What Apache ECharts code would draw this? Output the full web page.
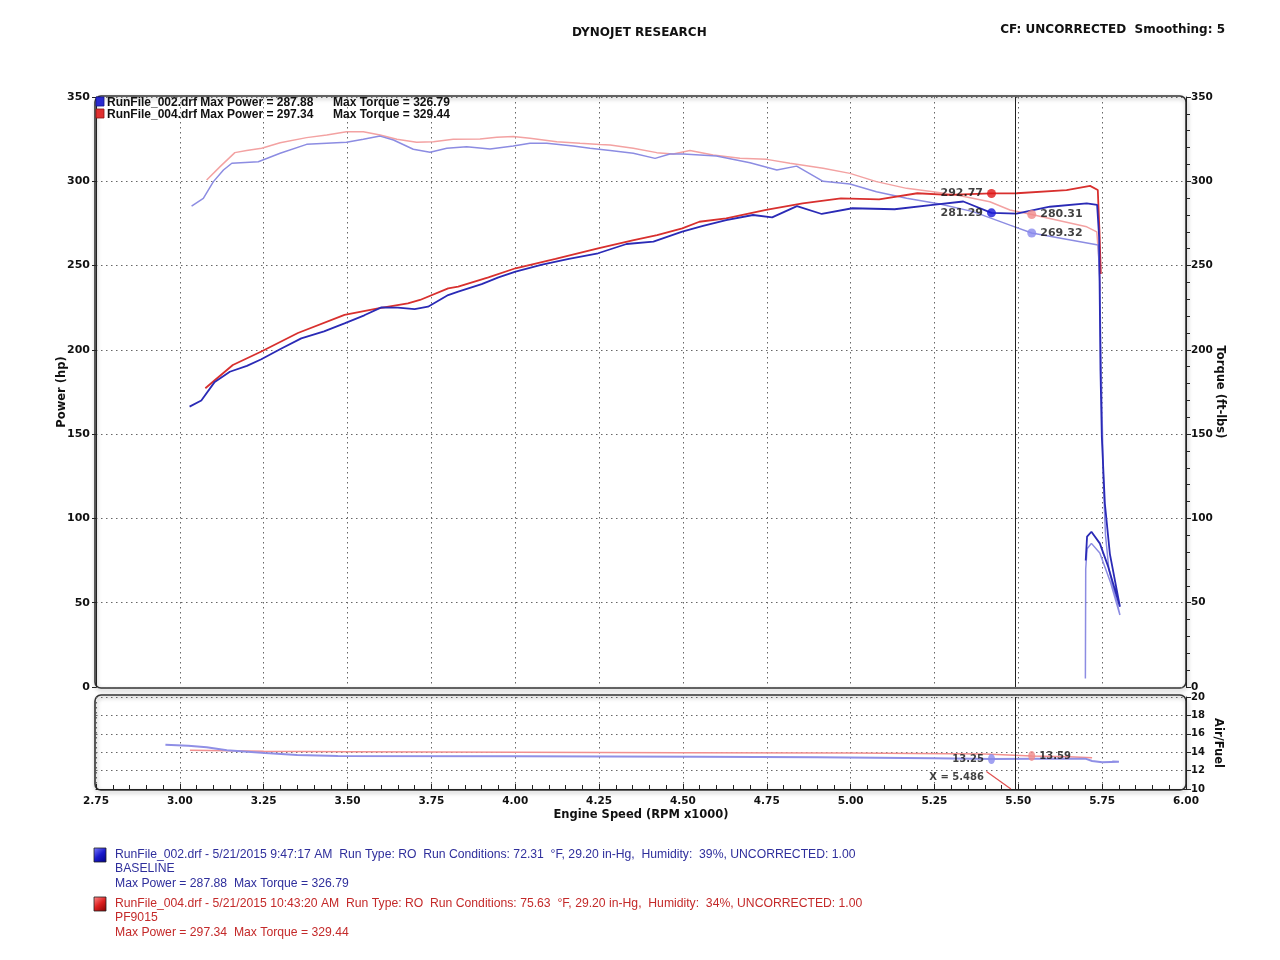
<!DOCTYPE html>
<html>
<head>
<meta charset="utf-8">
<script src="https://cdn.jsdelivr.net/npm/echarts@6/dist/echarts.min.js"></script>
<style>
html,body{margin:0;padding:0;background:#fff;}
#chart{width:1280px;height:960px;}
</style>
</head>
<body>
<div id="chart"></div>
<script>
// ---------- DATA ----------
const xTickValues = [2.75,3.00,3.25,3.50,3.75,4.00,4.25,4.50,4.75,5.00,5.25,5.50,5.75,6.00];

// Baseline (RunFile_002) power, hp
const basePowerRpm = [3.029,3.064,3.104,3.149,3.20,3.243,3.30,3.362,3.43,3.491,3.55,3.601,3.65,3.70,3.74,3.80,3.83,3.90,3.95,4.001,4.08,4.16,4.247,4.332,4.412,4.498,4.56,4.629,4.709,4.766,4.84,4.914,5.005,5.131,5.245,5.336,5.42,5.495,5.594,5.704,5.735,5.741,5.743,5.745,5.749,5.758,5.773,5.803,5.768,5.743,5.718,5.705,5.701];
const basePowerHp  = [166.3,170,181,187,190.5,194.4,200.5,206.8,211,215.7,220.5,225.2,225,224.2,225.6,232.5,234.5,239,243,246.4,250.5,254,257.3,262.8,264.2,270.1,273.5,277,280,278.6,285.3,280.6,284,283.4,286,288,281.29,280.8,284.9,286.9,286,267,228,188,148.5,109,79,47.6,71.4,85.2,92.1,89.2,75];

// PF9015 (RunFile_004) power, hp
const modPowerRpm = [3.076,3.104,3.158,3.243,3.352,3.491,3.591,3.68,3.716,3.80,3.83,3.92,4.001,4.12,4.247,4.35,4.423,4.498,4.549,4.629,4.748,4.857,4.971,5.085,5.199,5.29,5.42,5.495,5.644,5.714,5.737,5.742,5.746];
const modPowerHp  = [177.2,182,191,199,210,220.7,224.6,227.6,229.6,236.5,237.5,243,248.4,254,260.2,265,268.1,272.1,276,278,283,286.9,289.9,289.3,292.9,291.9,292.77,292.9,294.8,297.3,294.8,270,245];

// Baseline torque, ft-lbs
const baseTorqueRpm = [3.035,3.07,3.10,3.13,3.155,3.234,3.299,3.378,3.438,3.497,3.547,3.597,3.637,3.696,3.746,3.796,3.855,3.925,3.994,4.044,4.094,4.173,4.223,4.283,4.352,4.417,4.461,4.501,4.60,4.70,4.78,4.839,4.918,4.998,5.077,5.167,5.266,5.365,5.475,5.54,5.738,5.743,5.746,5.750,5.754,5.760,5.770,5.803,5.775,5.743,5.718,5.705,5.701,5.700];
const baseTorqueLb  = [285.3,289.9,299.8,306.7,310.7,311.6,316.6,321.9,322.5,323.1,324.9,326.8,324.5,319,317.2,319.6,320.5,319.2,320.9,322.5,322.5,320.9,319.6,318.2,316.6,313.6,316.2,316.2,315,311,306.7,309,300,298.4,293.8,289.9,286.5,282,274,269.32,262.2,240,200,160,120,90,70,42.7,62,79.5,85.2,82,70,5];

// PF9015 torque, ft-lbs
const modTorqueRpm = [3.080,3.12,3.164,3.199,3.244,3.299,3.378,3.438,3.497,3.547,3.597,3.647,3.706,3.756,3.815,3.895,3.945,3.994,4.044,4.124,4.193,4.253,4.283,4.352,4.422,4.471,4.521,4.59,4.67,4.75,4.819,4.918,4.998,5.077,5.167,5.246,5.316,5.415,5.475,5.54,5.704,5.734,5.740,5.745];
const modTorqueLb  = [300.8,308.7,317,318.2,319.6,322.9,325.9,327.5,329.4,329.4,327.5,324.9,323.1,323.5,324.9,325.1,326.1,326.5,325.5,323.5,322.5,321.8,321.5,319.6,317,316.2,318.2,315.6,313.6,313,310.7,307.7,304.7,299.8,295.8,293.8,291.9,287.9,283,280.31,273,270,255,235];

// Air / Fuel
const baseAfrRpm = [2.957,3.025,3.08,3.14,3.254,3.35,3.471,4.0,4.546,4.9,5.25,5.42,5.55,5.70,5.72,5.75,5.80,5.78];
const baseAfr    = [14.8,14.7,14.55,14.2,13.9,13.7,13.6,13.55,13.5,13.45,13.35,13.25,13.3,13.3,13.05,12.9,12.95,13.0];
const modAfrRpm  = [3.03,3.15,3.25,3.5,4.0,4.5,5.0,5.4,5.54,5.65,5.72];
const modAfr     = [14.2,14.15,14.1,14.05,14.0,13.95,13.9,13.8,13.59,13.5,13.4];

// Cursor / markers
const cursorRpm = 5.486;
const cursorLeaderRpm = [5.405,5.478];
const cursorLeaderAfr = [11.9,10.0];
const markerRpmLeft = 5.42;
const markerRpmRight = 5.54;
const markerModPower = 292.77;
const markerBasePower = 281.29;
const markerModTorque = 280.31;
const markerBaseTorque = 269.32;
const markerBaseAfr = 13.25;
const markerModAfr = 13.59;

// Texts
const titleText = 'DYNOJET RESEARCH';
const cornerText = 'CF: UNCORRECTED  Smoothing: 5';
const topLegendA = ['RunFile_002.drf Max Power = 287.88', 'Max Torque = 326.79'];
const topLegendB = ['RunFile_004.drf Max Power = 297.34', 'Max Torque = 329.44'];
const bottomLegendA = ['RunFile_002.drf - 5/21/2015 9:47:17 AM  Run Type: RO  Run Conditions: 72.31  \u00B0F, 29.20 in-Hg,  Humidity:  39%, UNCORRECTED: 1.00', 'BASELINE', 'Max Power = 287.88  Max Torque = 326.79'];
const bottomLegendB = ['RunFile_004.drf - 5/21/2015 10:43:20 AM  Run Type: RO  Run Conditions: 75.63  \u00B0F, 29.20 in-Hg,  Humidity:  34%, UNCORRECTED: 1.00', 'PF9015', 'Max Power = 297.34  Max Torque = 329.44'];

// ---------- BUILD ----------
const zip = (a, b) => a.map((v, i) => [v, b[i]]);
const C = {
  basePower: '#2a2ab6', modPower: '#d8302e',
  baseTorque: '#8c8ce2', modTorque: '#f3a2a2',
  baseAfr: '#8f8fe6', modAfr: '#f29090'
};
const tickFont = {fontFamily: 'DejaVu Sans', fontWeight: 'bold', fontSize: 11, color: '#111'};
const dotted = {color: '#666', type: [1.5, 3.5], width: 1};
const nameFont = {fontFamily: 'DejaVu Sans', fontWeight: 'bold', fontSize: 11.5, color: '#111'};

const chart = echarts.init(document.getElementById('chart'), null, {renderer: 'canvas'});

const labelStyle = (pos) => ({show: true, position: pos, distance: 4, formatter: p => p.value[1].toFixed(2), fontFamily: 'DejaVu Sans', fontWeight: 'bold', fontSize: 11, color: '#111'});
const legFont = '12.2px "Liberation Sans"';

const option = {
  backgroundColor: '#ffffff',
  animation: false,
  grid: [
    {left: 96, right: 94, top: 97, height: 590},
    {left: 96, right: 94, top: 697, height: 92}
  ],
  xAxis: [
    {type: 'value', gridIndex: 0, min: 2.75, max: 6.0, interval: 0.25,
     axisLine: {show: false}, axisTick: {show: false}, axisLabel: {show: false},
     splitLine: {show: true, lineStyle: dotted}},
    {type: 'value', gridIndex: 1, min: 2.75, max: 6.0, interval: 0.25,
     name: 'Engine Speed (RPM x1000)', nameLocation: 'middle', nameGap: 20, nameMoveOverlap: false,
     nameTextStyle: nameFont,
     axisLine: {show: true, lineStyle: {color: '#222', width: 1.2}},
     axisTick: {show: true, inside: true, length: 5, lineStyle: {color: '#222'}},
     minorTick: {show: true, splitNumber: 5, length: 4, lineStyle: {color: '#222'}},
     axisLabel: Object.assign({margin: 7, formatter: v => v.toFixed(2)}, tickFont, {fontSize: 10.5}),
     splitLine: {show: true, lineStyle: dotted}}
  ],
  yAxis: [
    {type: 'value', gridIndex: 0, min: 0, max: 350, interval: 50, position: 'left',
     name: 'Power (hp)', nameLocation: 'middle', nameGap: 28, nameRotate: 90, nameMoveOverlap: false,
     nameTextStyle: nameFont,
     axisLine: {show: true, lineStyle: {color: '#222'}},
     axisTick: {show: true, length: 4, lineStyle: {color: '#222'}},
     axisLabel: Object.assign({margin: 6}, tickFont),
     splitLine: {show: true, lineStyle: dotted}},
    {type: 'value', gridIndex: 0, min: 0, max: 350, interval: 50, position: 'right',
     name: 'Torque (ft-lbs)', nameLocation: 'middle', nameGap: 28, nameRotate: -90, nameMoveOverlap: false,
     nameTextStyle: nameFont,
     axisLine: {show: true, lineStyle: {color: '#222'}},
     axisTick: {show: true, length: 5, lineStyle: {color: '#222'}},
     minorTick: {show: true, splitNumber: 5, length: 4, lineStyle: {color: '#222'}},
     axisLabel: Object.assign({margin: 5}, tickFont, {fontSize: 10.5}),
     splitLine: {show: false}},
    {type: 'value', gridIndex: 1, min: 10, max: 20, interval: 2, position: 'right',
     name: 'Air/Fuel', nameLocation: 'middle', nameGap: 26, nameRotate: -90, nameMoveOverlap: false,
     nameTextStyle: nameFont,
     axisLine: {show: true, lineStyle: {color: '#222'}},
     axisTick: {show: true, length: 5, lineStyle: {color: '#222'}},
     axisLabel: Object.assign({margin: 5}, tickFont, {fontSize: 10}),
     splitLine: {show: true, lineStyle: dotted}}
  ],
  graphic: [
    // panel frames
    {type: 'rect', shape: {x: 95, y: 96, width: 1091, height: 592, r: 6}, z: 0,
     style: {fill: 'none', stroke: '#333', lineWidth: 1.6, shadowBlur: 4, shadowColor: 'rgba(0,0,0,0.35)', shadowOffsetX: 1, shadowOffsetY: 2}},
    {type: 'rect', shape: {x: 95, y: 695, width: 1091, height: 95, r: 6}, z: 0,
     style: {fill: 'none', stroke: '#333', lineWidth: 1.6, shadowBlur: 4, shadowColor: 'rgba(0,0,0,0.35)', shadowOffsetX: 1, shadowOffsetY: 2}},
    // header
    {type: 'text', left: 572, top: 27, style: {text: titleText, font: 'bold 12px "DejaVu Sans"', fill: '#111'}},
    {type: 'text', right: 55, top: 24, style: {text: cornerText, font: 'bold 12px "DejaVu Sans"', fill: '#111'}},
    // top-left legend
    {type: 'rect', shape: {x: 96, y: 97, width: 8, height: 9}, style: {fill: '#2a2ad0', stroke: '#11118a', lineWidth: 0.8}, z: 10},
    {type: 'rect', shape: {x: 96, y: 109, width: 8, height: 9}, style: {fill: '#e03030', stroke: '#8a1111', lineWidth: 0.8}, z: 10},
    {type: 'text', left: 107, top: 97, z: 10, style: {text: topLegendA[0], font: 'bold 12px "Liberation Sans"', fill: '#111'}},
    {type: 'text', left: 333, top: 97, z: 10, style: {text: topLegendA[1], font: 'bold 12px "Liberation Sans"', fill: '#111'}},
    {type: 'text', left: 107, top: 109, z: 10, style: {text: topLegendB[0], font: 'bold 12px "Liberation Sans"', fill: '#111'}},
    {type: 'text', left: 333, top: 109, z: 10, style: {text: topLegendB[1], font: 'bold 12px "Liberation Sans"', fill: '#111'}},
    // bottom legend
    {type: 'rect', shape: {x: 94, y: 848, width: 12, height: 14}, style: {fill: new echarts.graphic.LinearGradient(0,0,1,1,[{offset:0,color:'#8080ff'},{offset:0.5,color:'#1a1acc'},{offset:1,color:'#000080'}]), stroke: '#222', lineWidth: 0.8}},
    {type: 'rect', shape: {x: 94, y: 897, width: 12, height: 14}, style: {fill: new echarts.graphic.LinearGradient(0,0,1,1,[{offset:0,color:'#ff9090'},{offset:0.5,color:'#dd2020'},{offset:1,color:'#800000'}]), stroke: '#222', lineWidth: 0.8}},
    {type: 'text', left: 115, top: 849, style: {text: bottomLegendA[0], font: legFont, fill: '#2f2f9c'}},
    {type: 'text', left: 115, top: 863, style: {text: bottomLegendA[1], font: legFont, fill: '#2f2f9c'}},
    {type: 'text', left: 115, top: 878, style: {text: bottomLegendA[2], font: legFont, fill: '#2f2f9c'}},
    {type: 'text', left: 115, top: 898, style: {text: bottomLegendB[0], font: legFont, fill: '#c42a2a'}},
    {type: 'text', left: 115, top: 912, style: {text: bottomLegendB[1], font: legFont, fill: '#c42a2a'}},
    {type: 'text', left: 115, top: 927, style: {text: bottomLegendB[2], font: legFont, fill: '#c42a2a'}}
  ],
  series: [
    {name: 'Torque PF9015', type: 'line', xAxisIndex: 0, yAxisIndex: 1, showSymbol: false, z: 2,
     data: zip(modTorqueRpm, modTorqueLb), lineStyle: {color: C.modTorque, width: 1.5}},
    {name: 'Torque Baseline', type: 'line', xAxisIndex: 0, yAxisIndex: 1, showSymbol: false, z: 2,
     data: zip(baseTorqueRpm, baseTorqueLb), lineStyle: {color: C.baseTorque, width: 1.5}},
    {name: 'Power PF9015', type: 'line', xAxisIndex: 0, yAxisIndex: 0, showSymbol: false, z: 3,
     data: zip(modPowerRpm, modPowerHp), lineStyle: {color: C.modPower, width: 1.8}},
    {name: 'Power Baseline', type: 'line', xAxisIndex: 0, yAxisIndex: 0, showSymbol: false, z: 3,
     data: zip(basePowerRpm, basePowerHp), lineStyle: {color: C.basePower, width: 1.8},
     markLine: {symbol: 'none', silent: true, label: {show: false}, lineStyle: {color: '#222', type: 'solid', width: 1},
                data: [{xAxis: cursorRpm}]}},
    // markers main
    {type: 'scatter', xAxisIndex: 0, yAxisIndex: 0, z: 5, symbolSize: 9,
     data: [[markerRpmLeft, markerModPower]], itemStyle: {color: '#e01818'}, label: labelStyle('left')},
    {type: 'scatter', xAxisIndex: 0, yAxisIndex: 0, z: 5, symbolSize: 9,
     data: [[markerRpmLeft, markerBasePower]], itemStyle: {color: '#1818d8'}, label: labelStyle('left')},
    {type: 'scatter', xAxisIndex: 0, yAxisIndex: 1, z: 5, symbolSize: 9,
     data: [[markerRpmRight, markerModTorque]], itemStyle: {color: '#f08a8a'}, label: labelStyle('right')},
    {type: 'scatter', xAxisIndex: 0, yAxisIndex: 1, z: 5, symbolSize: 9,
     data: [[markerRpmRight, markerBaseTorque]], itemStyle: {color: '#8a8aee'}, label: labelStyle('right')},
    // AFR
    {name: 'AFR PF9015', type: 'line', xAxisIndex: 1, yAxisIndex: 2, showSymbol: false, z: 2,
     data: zip(modAfrRpm, modAfr), lineStyle: {color: C.modAfr, width: 1.5}},
    {name: 'AFR Baseline', type: 'line', xAxisIndex: 1, yAxisIndex: 2, showSymbol: false, z: 2,
     data: zip(baseAfrRpm, baseAfr), lineStyle: {color: C.baseAfr, width: 2},
     markLine: {symbol: 'none', silent: true, label: {show: false}, lineStyle: {color: '#222', type: 'solid', width: 1},
                data: [{xAxis: cursorRpm}]}},
    {type: 'line', xAxisIndex: 1, yAxisIndex: 2, z: 4, showSymbol: false,
     data: zip(cursorLeaderRpm, cursorLeaderAfr), lineStyle: {color: '#e05050', width: 1.2}},
    {type: 'scatter', xAxisIndex: 1, yAxisIndex: 2, z: 6, symbolSize: 1,
     data: [[cursorLeaderRpm[0], cursorLeaderAfr[0]]], itemStyle: {color: 'rgba(0,0,0,0)'},
     label: {show: true, position: 'left', distance: 2, offset: [0, 6], formatter: () => 'X = ' + cursorRpm.toFixed(3),
             fontFamily: 'DejaVu Sans', fontWeight: 'bold', fontSize: 10, color: '#111'}},
    {type: 'scatter', xAxisIndex: 1, yAxisIndex: 2, z: 5, symbolSize: [7, 10],
     data: [[markerRpmLeft, markerBaseAfr]], itemStyle: {color: '#8a8aee'},
     label: Object.assign(labelStyle('left'), {fontSize: 10})},
    {type: 'scatter', xAxisIndex: 1, yAxisIndex: 2, z: 5, symbolSize: [7, 10],
     data: [[markerRpmRight, markerModAfr]], itemStyle: {color: '#f08a8a'},
     label: Object.assign(labelStyle('right'), {fontSize: 10})}
  ]
};
chart.setOption(option);
</script>
</body>
</html>
